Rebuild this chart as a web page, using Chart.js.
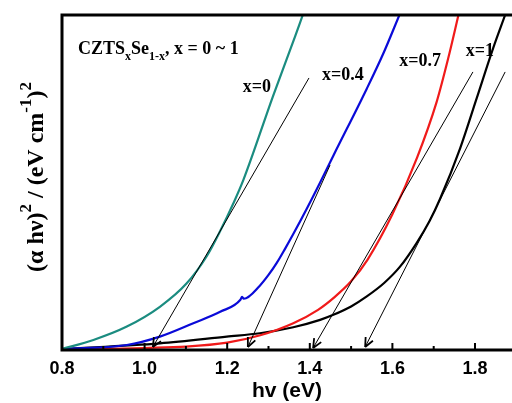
<!DOCTYPE html>
<html>
<head>
<meta charset="utf-8">
<script src="https://cdn.jsdelivr.net/npm/chart.js"></script>
<style>
  html, body { margin: 0; padding: 0; background: #fff; }
</style>
</head>
<body>
<canvas id="chart" width="512" height="403"></canvas>
<script>
// Axis ticks (hv in eV)
const xTicks = [0.8, 1.0, 1.2, 1.4, 1.6, 1.8];
const xMinorTicks = [0.9, 1.1, 1.3, 1.5, 1.7];

// Series (y in arbitrary units 0-100)
const seriesNames = ['x=0', 'x=0.4', 'x=0.7', 'x=1'];

const hvX0 = [0.800, 0.876, 0.957, 1.037, 1.102, 1.150, 1.183, 1.215, 1.239, 1.311, 1.364, 1.383];
const ahX0 = [0.3, 3.0, 7.0, 12.9, 19.9, 27.9, 35.5, 43.8, 50.7, 75.8, 93.5, 100];

const hvX04 = [0.800, 0.957, 1.037, 1.118, 1.183, 1.232, 1.236, 1.240, 1.279, 1.300, 1.320, 1.340, 1.360, 1.392, 1.425, 1.457, 1.538, 1.578, 1.617];
const ahX04 = [0.3, 1.5, 4.0, 8.0, 11.4, 15.0, 15.9, 15.3, 19.2, 22.4, 26.0, 30.2, 34.6, 42.0, 50.0, 58.0, 78.0, 88.5, 100];

const hvX07 = [0.800, 1.000, 1.100, 1.200, 1.280, 1.360, 1.420, 1.460, 1.500, 1.540, 1.600, 1.660, 1.707, 1.735, 1.760];
const ahX07 = [0.0, 0.6, 1.0, 2.2, 4.4, 8.0, 12.0, 15.8, 20.5, 27.0, 40.5, 57.5, 74.0, 87.0, 100];

const hvX1 = [0.800, 1.037, 1.199, 1.279, 1.360, 1.425, 1.457, 1.500, 1.538, 1.580, 1.618, 1.659, 1.690, 1.715, 1.764, 1.804, 1.844, 1.873];
const ahX1 = [0.3, 2.0, 4.0, 5.0, 6.8, 9.0, 10.5, 13.0, 16.0, 20.0, 24.8, 32.0, 38.5, 45.0, 60.2, 75.1, 90.1, 100];

// Tangent (extrapolation) lines: top end -> arrow tip on the axis
const tangentHv = [[1.398, 1.020], [1.449, 1.250], [1.795, 1.408], [1.873, 1.534]];
const tangentAh = [[81.2, 0.9], [55.2, 0.9], [83.0, 0.6], [83.0, 0.9]];

// Where the series labels sit (data coords)
const labelHv = [1.272, 1.480, 1.667, 1.812];
const labelAh = [78.5, 82.1, 86.3, 89.3];

const seriesX = [hvX0, hvX04, hvX07, hvX1];
const seriesY = [ahX0, ahX04, ahX07, ahX1];
const colors = ['#1b8c80', '#0a0ad8', '#f01a1a', '#000000'];

const zip = (xs, ys) => xs.map((v, i) => ({ x: v, y: ys[i] }));

const datasets = [];
tangentHv.forEach((xs, i) => {
  datasets.push({
    data: zip(xs, tangentAh[i]),
    borderColor: '#000',
    borderWidth: 1,
    pointRadius: 0,
    arrow: true,
  });
});
seriesX.forEach((xs, i) => {
  datasets.push({
    label: seriesNames[i],
    data: zip(xs, seriesY[i]),
    borderColor: colors[i],
    borderWidth: 2.2,
    pointRadius: 0,
    cubicInterpolationMode: 'monotone',
  });
});

const serif = '"Liberation Serif", "Times New Roman", serif';
const sans = '"Liberation Sans", Arial, sans-serif';

// draw a run of [text, size, raise] pieces starting at x,y
function drawRuns(ctx, runs, x, y) {
  runs.forEach(([t, size, raise]) => {
    ctx.font = `bold ${size}px ${serif}`;
    ctx.fillText(t, x, y - raise);
    x += ctx.measureText(t).width;
  });
  return x;
}
function runsWidth(ctx, runs) {
  let w = 0;
  runs.forEach(([t, size]) => {
    ctx.font = `bold ${size}px ${serif}`;
    w += ctx.measureText(t).width;
  });
  return w;
}

const decor = {
  id: 'decor',
  afterDatasetsDraw(chart) {
    const { ctx, chartArea: a, scales: { x, y } } = chart;
    ctx.save();

    // arrow heads at the lower end of tangent lines
    chart.data.datasets.forEach((ds, i) => {
      if (!ds.arrow) return;
      const pts = chart.getDatasetMeta(i).data;
      const p = pts[pts.length - 1], q = pts[pts.length - 2];
      const ang = Math.atan2(p.y - q.y, p.x - q.x);
      ctx.beginPath();
      [-1, 1].forEach(s => {
        ctx.moveTo(p.x, p.y);
        ctx.lineTo(p.x - 10 * Math.cos(ang + s * 0.42), p.y - 10 * Math.sin(ang + s * 0.42));
      });
      ctx.lineWidth = 1.8;
      ctx.strokeStyle = '#000';
      ctx.stroke();
    });

    // frame
    ctx.strokeStyle = '#000';
    ctx.lineWidth = 3;
    ctx.beginPath();
    ctx.moveTo(a.right + 2, a.top);
    ctx.lineTo(a.left, a.top);
    ctx.lineTo(a.left, a.bottom);
    ctx.lineTo(a.right + 2, a.bottom);
    ctx.stroke();

    // inward tick marks on the bottom axis
    ctx.lineWidth = 2;
    ctx.beginPath();
    xTicks.forEach(v => {
      const px = x.getPixelForValue(v);
      ctx.moveTo(px, a.bottom);
      ctx.lineTo(px, a.bottom - 7);
    });
    xMinorTicks.forEach(v => {
      const px = x.getPixelForValue(v);
      ctx.moveTo(px, a.bottom);
      ctx.lineTo(px, a.bottom - 4);
    });
    ctx.stroke();

    // series labels
    ctx.fillStyle = '#000';
    ctx.textAlign = 'center';
    ctx.textBaseline = 'middle';
    ctx.font = `bold 18px ${serif}`;
    seriesNames.forEach((t, i) => {
      ctx.fillText(t, x.getPixelForValue(labelHv[i]), y.getPixelForValue(labelAh[i]));
    });

    // composition note
    ctx.textAlign = 'left';
    ctx.textBaseline = 'alphabetic';
    drawRuns(ctx, [
      ['CZTS', 18, 0], ['x', 12, -6], ['Se', 18, 0], ['1-x', 12, -6], [', x = 0 ~ 1', 18, 0],
    ], 78, 54);

    // y axis title, rotated
    const yRuns = [
      ['(\u03b1 h\u03bd)', 24, 0], ['2', 17, 12], [' / (eV cm', 24, 0], ['-1', 17, 12], [')', 24, 0], ['2', 17, 12],
    ];
    const w = runsWidth(ctx, yRuns);
    ctx.translate(43, 177 + w / 2);
    ctx.rotate(-Math.PI / 2);
    drawRuns(ctx, yRuns, 0, 0);

    ctx.restore();
  },
};

new Chart(document.getElementById('chart'), {
  type: 'line',
  data: { datasets },
  options: {
    responsive: false,
    animation: false,
    layout: { padding: { left: 62, top: 15, right: 0, bottom: 0 } },
    plugins: { legend: { display: false }, tooltip: { enabled: false } },
    scales: {
      x: {
        type: 'linear',
        min: 0.8,
        max: 1.8896,
        afterBuildTicks: s => { s.ticks = xTicks.map(v => ({ value: v })); },
        afterFit: s => { s.height = 53; },
        grid: { display: false, drawTicks: false },
        border: { display: false },
        ticks: {
          padding: 8,
          color: '#000',
          font: { family: sans, size: 18, weight: 'bold' },
          callback: v => v.toFixed(1),
          maxRotation: 0,
        },
        title: {
          display: true,
          text: 'hv (eV)',
          color: '#000',
          padding: { top: 0, bottom: -1 },
          font: { family: sans, size: 21, weight: 'bold' },
        },
      },
      y: {
        display: false,
        min: 0,
        max: 100,
      },
    },
  },
  plugins: [decor],
});
</script>
</body>
</html>
